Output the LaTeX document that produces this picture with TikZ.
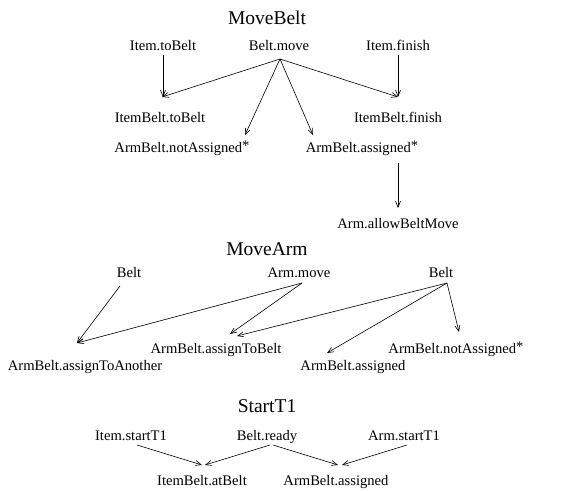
\documentclass[tikz,border=0pt]{standalone}
\usepackage{fontspec}
\setmainfont{Liberation Serif}
\usetikzlibrary{arrows.meta,calc}
\newcommand{\astx}{\raisebox{2pt}{*}}
\tikzset{
  lbl/.style={font=\fontsize{14.6}{16}\selectfont, inner sep=0pt, anchor=base},
  ttl/.style={font=\fontsize{19.5}{22}\selectfont, inner sep=0pt, anchor=base},
  arr/.style={-{Straight Barb[length=6pt,width=5pt]}, line width=0.6pt}
}
\begin{document}
\begin{tikzpicture}[x=1pt,y=-1pt]
\useasboundingbox (0,0) rectangle (572,490);
% MoveBelt
\node[ttl] (t1) at (267,24) {MoveBelt};
\node[lbl] (it) at (163,50) {Item.toBelt};
\node[lbl] (bm) at (279,50) {Belt.move};
\node[lbl] (if) at (398,50) {Item.finish};
\node[lbl] (ibt) at (160,122) {ItemBelt.toBelt};
\node[lbl] (ibf) at (398,122) {ItemBelt.finish};
\node[lbl] (nas) at (182,152) {ArmBelt.notAssigned\astx};
\node[lbl] (as) at (362,152) {ArmBelt.assigned\astx};
\node[lbl] (abm) at (398,228) {Arm.allowBeltMove};
\draw[arr] ($(it.base)+(0,5)$) -- ($(ibt.base)+(3,-25)$);
\draw[arr] ($(bm.base)+(1,9)$) -- ($(ibt.base)+(2,-25)$);
\draw[arr] ($(bm.base)+(1,9)$) -- ($(nas.base)+(63,-17)$);
\draw[arr] ($(bm.base)+(1,9)$) -- ($(as.base)+(-49,-17)$);
\draw[arr] ($(bm.base)+(1,9)$) -- ($(ibf.base)+(0,-25)$);
\draw[arr] ($(if.base)+(0,5)$) -- ($(ibf.base)+(0,-25)$);
\draw[arr] ($(as.base)+(36,11)$) -- ($(abm.base)+(0,-20)$);
% MoveArm
\node[ttl] (t2) at (267,255) {MoveArm};
\node[lbl] (b1) at (129,277) {Belt};
\node[lbl] (am) at (299,277) {Arm.move};
\node[lbl] (b2) at (441,277) {Belt};
\node[lbl] (atb) at (216,353) {ArmBelt.assignToBelt};
\node[lbl] (nas2) at (456,353) {ArmBelt.notAssigned\astx};
\node[lbl] (ata) at (85,370) {ArmBelt.assignToAnother};
\node[lbl] (as2) at (353,370) {ArmBelt.assigned};
\draw[arr] ($(b1.base)+(-9,9)$) -- ($(ata.base)+(-8,-27)$);
\draw[arr] ($(am.base)+(3,6)$) -- ($(ata.base)+(-8,-27)$);
\draw[arr] ($(am.base)+(3,6)$) -- ($(atb.base)+(14,-19)$);
\draw[arr] ($(b2.base)+(6,6)$) -- ($(atb.base)+(21,-17)$);
\draw[arr] ($(b2.base)+(6,6)$) -- ($(as2.base)+(-26,-17)$);
\draw[arr] ($(b2.base)+(6,6)$) -- ($(nas2.base)+(3,-21)$);
% StartT1
\node[ttl] (t3) at (267,412) {StartT1};
\node[lbl] (ist) at (131,440) {Item.startT1};
\node[lbl] (br) at (267,440) {Belt.ready};
\node[lbl] (ast) at (404,440) {Arm.startT1};
\node[lbl] (iab) at (202,485) {ItemBelt.atBelt};
\node[lbl] (as3) at (336,485) {ArmBelt.assigned};
\draw[arr] ($(ist.base)+(6,5)$) -- ($(iab.base)+(0,-20)$);
\draw[arr] ($(br.base)+(3,5)$) -- ($(iab.base)+(3,-20)$);
\draw[arr] ($(br.base)+(6,5)$) -- ($(as3.base)+(2,-20)$);
\draw[arr] ($(ast.base)+(3,5)$) -- ($(as3.base)+(6,-20)$);
\end{tikzpicture}
\end{document}
